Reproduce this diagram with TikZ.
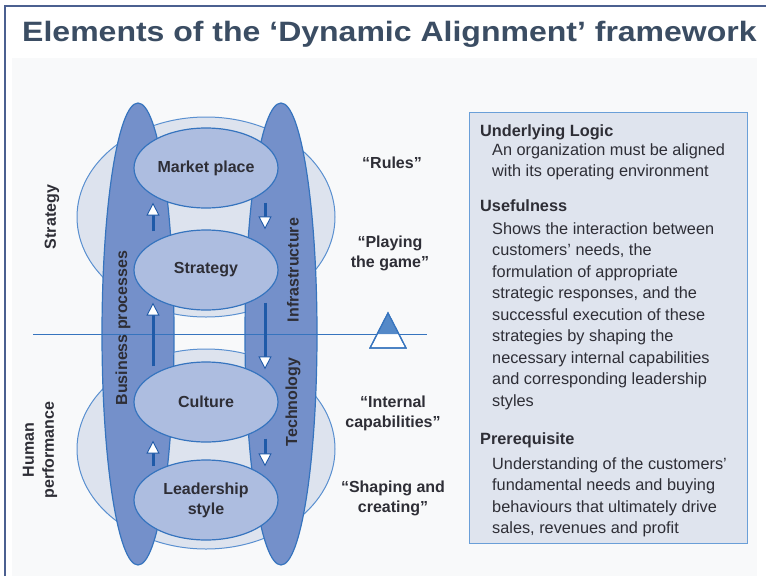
\documentclass[tikz,border=0pt]{standalone}
\usepackage{fontspec}
\setmainfont{Liberation Sans}
\usetikzlibrary{arrows.meta,calc,shapes.geometric}

\definecolor{framecol}{HTML}{4B6090}
\definecolor{titlecol}{HTML}{3B4D63}
\definecolor{panelcol}{HTML}{F8F9FA}
\definecolor{ringfill}{HTML}{DDE3EE}
\definecolor{ringline}{HTML}{5A90D0}
\definecolor{pillarfill}{HTML}{7490CA}
\definecolor{stagefill}{HTML}{ADBDE0}
\definecolor{edgeblue}{HTML}{3674BE}
\definecolor{shaftcol}{HTML}{1F5AA8}
\definecolor{boxfill}{HTML}{DFE4EE}
\definecolor{boxline}{HTML}{6A9FD8}
\definecolor{inkgray}{HTML}{2E2E36}

\newcommand\lblfont{\fontsize{16}{20}\selectfont\bfseries}
\newcommand\boxfont{\fontsize{16.3}{21.5}\selectfont}

\tikzset{
  ring/.style={ellipse, draw=ringline, fill=ringfill, line width=1pt,
    minimum width=258pt, minimum height=200pt, inner sep=0pt},
  pillar/.style={ellipse, draw=edgeblue, fill=pillarfill, line width=1.2pt,
    minimum width=72pt, minimum height=462pt, inner sep=0pt},
  stage/.style={ellipse, draw=edgeblue, fill=stagefill, line width=1.2pt,
    minimum width=144pt, minimum height=80pt, inner sep=0pt,
    align=center, font=\lblfont, text=inkgray},
  lbl/.style={align=center, font=\lblfont, text=inkgray, inner sep=0pt},
  flowarr/.style={draw=shaftcol, line width=3pt,
    -{Triangle[length=13pt 0, width=13pt 0, line width=0.9pt, color=shaftcol, fill=white]}},
}

\begin{document}
\begin{tikzpicture}[x=1pt, y=-1pt]
\useasboundingbox (0,0) rectangle (766,576);
\fill[white] (0,0) rectangle (766,576);
\fill[panelcol] (12,58) rectangle (757,576);
\draw[framecol, line width=2.5pt] (5,576) -- (5,6) -- (766,6);

\node[anchor=west, font=\fontsize{28}{30}\selectfont\bfseries, text=titlecol,
  inner sep=0pt, xscale=1.143]
  (title) at (22,34) {Elements of the ‘Dynamic Alignment’ framework};

% outer rings
\node[ring] (topring) at (206,217) {};
\node[ring] (lowring) at (206,449) {};

% the two pillars
\node[pillar] (procpillar) at (138,334) {};
\node[pillar] (techpillar) at (281,334) {};

\draw[edgeblue, line width=1pt] (33,334) -- (427,334);

% stages
\node[stage] (market) at (206,168) {Market place};
\node[stage] (strategy) at (206,270) {Strategy};
\node[stage] (culture) at (206,402) {Culture};
\node[stage] (leader) at (206,500) {Leadership\\style};

% arrows up the left pillar
\draw[flowarr] ($(strategy.north)+(-53,2)$) -- ($(market.south)+(-53,-6)$);
\draw[flowarr] ($(culture.north)+(-53,5)$) -- ($(strategy.south)+(-53,-8)$);
\draw[flowarr] ($(leader.north)+(-53,7)$) -- ($(culture.south)+(-53,-2)$);
% arrows down the right pillar
\draw[flowarr] ($(market.south)+(59,-6)$) -- ($(strategy.north)+(59,0)$);
\draw[flowarr] ($(strategy.south)+(59,-8)$) -- ($(culture.north)+(59,8)$);
\draw[flowarr] ($(culture.south)+(59,-4)$) -- ($(leader.north)+(59,7)$);

\node[lbl, rotate=90] (proclbl) at (123,328) {Business processes};
\node[lbl, rotate=90] (infralbl) at (293,270) {Infrastructure};
\node[lbl, rotate=90] (techlbl) at (293,402) {Technology};

\node[lbl, rotate=90] (stratlbl) at (52,217) {Strategy};
\node[lbl, rotate=90] (humanlbl) at (40,450) {Human\\performance};

\node[lbl] (rules) at (392,163) {“Rules”};
\node[lbl] (playing) at (390,253) {“Playing\\the game”};
\node[lbl] (internal) at (393,413) {“Internal\\capabilities”};
\node[lbl] (shaping) at (393,498) {“Shaping and\\creating”};

% balance mark
\draw[edgeblue, line width=1.2pt, fill=white] (388,313) -- (406,348) -- (370,348) -- cycle;
\fill[edgeblue!85] (388,313) -- (398.8,334) -- (377.2,334) -- cycle;
\draw[edgeblue, line width=1.2pt] (388,313) -- (406,348) -- (370,348) -- cycle;

% explanation box
\node[draw=boxline, fill=boxfill, line width=1.2pt, anchor=north west,
  minimum width=278pt, minimum height=431pt, inner sep=0pt] (logic) at (469,112) {};
\node[anchor=north west, align=left, font=\boxfont, text=inkgray, inner sep=0pt]
  (logictxt) at ($(logic.north west)+(11,12)$) {%
  \textbf{Underlying Logic}\\[-2.5pt]
  \hspace*{12pt}An organization must be aligned\\
  \hspace*{12pt}with its operating environment\\[13pt]
  \textbf{Usefulness}\\[1.5pt]
  \hspace*{12pt}Shows the interaction between\\
  \hspace*{12pt}customers' needs, the\\
  \hspace*{12pt}formulation of appropriate\\
  \hspace*{12pt}strategic responses, and the\\
  \hspace*{12pt}successful execution of these\\
  \hspace*{12pt}strategies by shaping the\\
  \hspace*{12pt}necessary internal capabilities\\
  \hspace*{12pt}and corresponding leadership\\
  \hspace*{12pt}styles\\[16.5pt]
  \textbf{Prerequisite}\\[3.5pt]
  \hspace*{12pt}Understanding of the customers'\\
  \hspace*{12pt}fundamental needs and buying\\
  \hspace*{12pt}behaviours that ultimately drive\\
  \hspace*{12pt}sales, revenues and profit};
\end{tikzpicture}
\end{document}
